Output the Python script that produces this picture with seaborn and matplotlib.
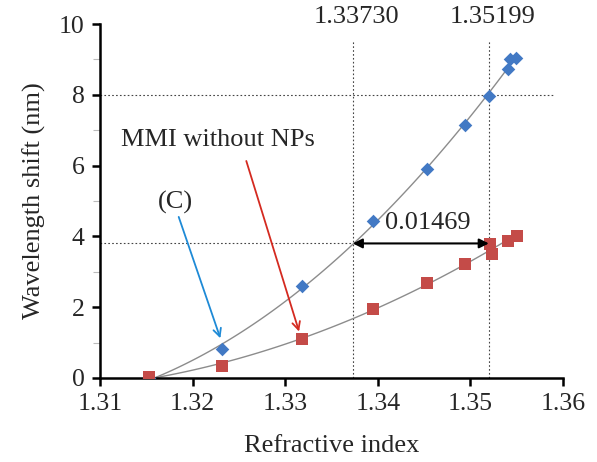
import matplotlib
matplotlib.use("Agg")
import matplotlib.pyplot as plt
import seaborn as sns
import numpy as np
import pandas as pd
from matplotlib.ticker import MultipleLocator

# ---- data ----
ri_c = [1.3153, 1.3232, 1.3318, 1.3395, 1.3453, 1.3494, 1.3520, 1.3541, 1.3543, 1.3549]
shift_c = [0.0, 0.81, 2.59, 4.42, 5.91, 7.15, 7.98, 8.73, 9.00, 9.03]
ri_mmi = [1.3153, 1.3232, 1.3318, 1.3395, 1.3453, 1.3494, 1.3521, 1.3523, 1.3541, 1.3550]
shift_mmi = [0.03, 0.34, 1.09, 1.94, 2.69, 3.23, 3.78, 3.51, 3.86, 4.02]
x_ticks = [1.31, 1.32, 1.33, 1.34, 1.35, 1.36]
y_ticks = [0, 2, 4, 6, 8, 10]
ri_marks = [1.33730, 1.35199]
shift_marks = [3.8, 8.0]
delta_label = "0.01469"

df_c = pd.DataFrame({"ri": ri_c, "shift": shift_c})
df_m = pd.DataFrame({"ri": ri_mmi, "shift": shift_mmi})

sns.set_style("ticks")
plt.rcParams["font.family"] = ["Liberation Serif", "DejaVu Serif"]

fig = plt.figure(figsize=(5.97, 4.62), dpi=100)
ax = fig.add_axes([0.1675, 0.182, 0.7755, 0.766])

BLUE = "#4279C4"
RED = "#C44B48"
LINE = "#8C8C8C"

# trendlines (2nd order polynomial)
sns.regplot(data=df_c, x="ri", y="shift", order=2, ci=None, scatter=False,
            line_kws=dict(color=LINE, lw=1.0), ax=ax)
sns.regplot(data=df_m, x="ri", y="shift", order=2, ci=None, scatter=False,
            line_kws=dict(color=LINE, lw=1.0), ax=ax)

sns.scatterplot(data=df_c, x="ri", y="shift", marker="D", s=48, color=BLUE,
                edgecolor=BLUE, linewidth=0, ax=ax, zorder=3)
sns.scatterplot(data=df_m, x="ri", y="shift", marker="s", s=68, color=RED,
                edgecolor=RED, linewidth=0, ax=ax, zorder=4)

# guide lines
for xv in ri_marks:
    ax.plot([xv, xv], [0, 9.55], ls=(0, (1.5, 2)), color="#444444", lw=0.8, zorder=1)
ax.plot([1.31, 1.3589], [shift_marks[1]] * 2, ls=(0, (1.5, 2)), color="#444444", lw=0.8, zorder=1)
ax.plot([1.31, ri_marks[0]], [shift_marks[0]] * 2, ls=(0, (1.5, 2)), color="#444444", lw=0.8, zorder=1)

# labels of guide lines
for xv in ri_marks:
    ax.text(xv + 0.0004, 10.2, f"{xv:.5f}", ha="center", va="center", fontsize=19, clip_on=False)

# double arrow
ax.annotate("", xy=(ri_marks[0], shift_marks[0]), xytext=(ri_marks[1], shift_marks[0]),
            arrowprops=dict(arrowstyle="<|-|>", color="black", lw=1.5,
                            mutation_scale=14, shrinkA=0, shrinkB=0), zorder=5)
ax.text(1.3454, 4.38, delta_label, ha="center", va="center", fontsize=19)

# annotations
ax.annotate("", xy=(1.3230, 1.12), xytext=(1.3185, 4.55),
            arrowprops=dict(arrowstyle="->", color="#1E8AD6", lw=1.3,
                            mutation_scale=14, shrinkA=0, shrinkB=0))
ax.text(1.3181, 4.97, "(C)", ha="center", va="center", fontsize=19)
ax.annotate("", xy=(1.3315, 1.31), xytext=(1.3258, 6.13),
            arrowprops=dict(arrowstyle="->", color="#D42A20", lw=1.3,
                            mutation_scale=14, shrinkA=0, shrinkB=0))
ax.text(1.3227, 6.72, "MMI without NPs", ha="center", va="center", fontsize=19)

# axes styling
ax.set_xlim(1.31, 1.36)
ax.set_ylim(0, 10)
ax.set_xticks(x_ticks)
ax.set_xticklabels([f"{v:.2f}" for v in x_ticks])
ax.set_yticks(y_ticks)
ax.set_yticklabels([str(v) for v in y_ticks])
ax.yaxis.set_minor_locator(MultipleLocator(1))
sns.despine(ax=ax)
for s in ["left", "bottom"]:
    ax.spines[s].set_linewidth(1.8)
    ax.spines[s].set_color("black")
ax.tick_params(axis="both", which="major", direction="out", length=6, width=1.8,
               labelsize=18.5, color="black", pad=5)
ax.tick_params(axis="y", which="minor", direction="out", length=5, width=0.8, color="#bbbbbb")
ax.set_xlabel("Refractive index", fontsize=19, labelpad=14)
ax.set_ylabel("Wavelength shift (nm)", fontsize=19, labelpad=9)

fig.savefig("out.png", dpi=100)
